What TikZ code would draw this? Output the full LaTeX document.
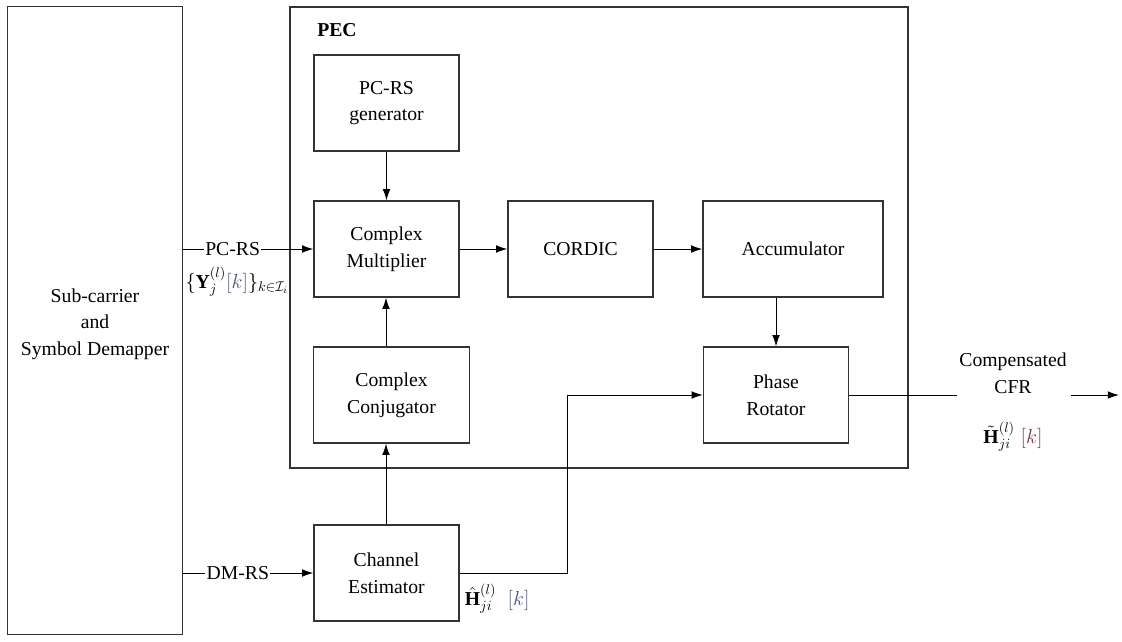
\documentclass[tikz,border=0pt]{standalone}
\usepackage{amsmath}
\usepackage{amssymb}
\usepackage{color}
\usepackage{fontspec}
\setmainfont{Liberation Serif}
\usetikzlibrary{calc,arrows.meta}
\definecolor{kblue}{RGB}{70,85,125}
\definecolor{kred}{RGB}{115,55,70}
\tikzset{lnk/.style={-{Latex[length=8pt,width=5.5pt]},black}}

\begin{document}
\begin{tikzpicture}[x=0.025cm,y=-0.025cm,
    font=\fontsize{14}{19}\selectfont,line width=0.7pt,
    blk/.style={draw,line width=1pt,draw=black!80,align=center,inner sep=0pt},
    sblk/.style={blk,minimum width=3.625cm,minimum height=2.4cm}]
                 \useasboundingbox (0,0) rectangle (1122,641);
                 % outer boxes
                 \node[blk,minimum width=4.375cm,minimum height=15.7cm](demap)at(95,320.5){};
                 \node[align=center](demaptxt)at(95,324){Sub-carrier\\and\\Symbol Demapper};
                 \draw[line width=1pt,draw=black!80] (290,7) rectangle (908,468);
                 \node[font=\fontsize{14}{19}\selectfont\bfseries](pec)at(337,30){PEC};
                 % blocks
                 \node[sblk](gen)at(386.5,103){PC-RS\\generator};
                 \node[sblk](mult)at(386.5,249){Complex\\Multiplier};
                 \node[sblk](cordic)at(580.5,249){CORDIC};
                 \node[sblk,minimum width=4.5cm](acc)at(793,249){Accumulator};
                 \node[sblk,minimum width=3.9cm](conj)at(391.5,395){Complex\\Conjugator};
                 \node[sblk](rot)at(776,395){Phase\\Rotator};
                 \node[sblk](est)at(386.5,573){Channel\\Estimator};
                 % input label first, so the line stays on top
                 \node[fill=white,inner sep=0.5pt](ylab)at(237,282){$\{\mathbf{Y}_j^{(l)}\textcolor{kblue}{[k]}\}_{k\in\mathcal{I}_i}$};
                 % links
                 \draw[lnk](demap.east|-mult)--node[pos=0.38,fill=white,inner xsep=1pt,inner ysep=0pt]{PC-RS}(mult);
                 \draw[lnk](demap.east|-est)--node[pos=0.42,fill=white,inner xsep=1pt,inner ysep=0pt]{DM-RS}(est);
                 \draw[lnk](gen)--(mult);
                 \draw[lnk](mult)--(cordic);
                 \draw[lnk](cordic)--(acc);
                 \draw[lnk](acc.south-|rot)--(rot);
                 \draw[lnk](est.north-|386,0)--(conj.south-|386,0);
                 \draw[lnk](conj.north-|386,0)--(mult.south-|386,0);
                 \draw[lnk](est.east)-|(567,395)--(rot.west);
                 % output
                 \coordinate (gapl) at (957,395);
                 \coordinate (gapr) at (1071,395);
                 \coordinate (out) at (1119,395);
                 \node[align=center](cfr)at(1013,373){Compensated\\CFR};
                 \draw[black](rot)--(gapl);
                 \draw[lnk](gapr)--(out);
                 % labels
                 \node[anchor=west,inner sep=1pt](hlab)at(463,599){$\hat{\mathbf{H}}_{ji}^{(l)}\hspace{8pt}\textcolor{kblue}{[k]}$};
                 \node(tlab)at(1013,437){$\tilde{\mathbf{H}}_{ji}^{(l)}\hspace{4pt}\textcolor{kred}{[k]}$};
               \end{tikzpicture}
\end{document}
